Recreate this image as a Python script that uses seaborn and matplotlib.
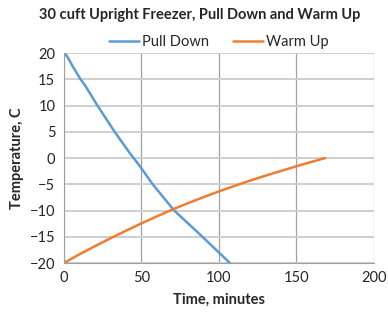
import pandas as pd
import matplotlib
matplotlib.use("Agg")
import matplotlib.pyplot as plt
import seaborn as sns

# Pull down curve (time in minutes, temperature in C)
pull_time = [0, 1.5, 3, 6, 10.9, 13.7, 21.8, 32.9, 42.5, 49.3, 57.4, 71.3, 89.5, 107.2]
pull_temp = [20, 19.7, 19, 17.4, 15, 13.9, 10, 5, 1, -1.6, -5, -10, -15, -20]

# Warm up curve
warm_time = [0, 10, 20, 30, 40, 50, 60, 70, 80, 90, 100, 110, 120, 130, 140, 150, 160, 168.5]
warm_temp = [-20, -18.35, -16.8, -15.3, -13.85, -12.45, -11.1, -9.8, -8.6, -7.45,
             -6.35, -5.3, -4.3, -3.35, -2.45, -1.55, -0.7, 0]

x_ticks = [0, 50, 100, 150, 200]
y_ticks = [-20, -15, -10, -5, 0, 5, 10, 15, 20]

df = pd.concat([
    pd.DataFrame({"time": pull_time, "temp": pull_temp, "series": "Pull Down"}),
    pd.DataFrame({"time": warm_time, "temp": warm_temp, "series": "Warm Up"}),
])

sns.set_style("white")
plt.rcParams["font.family"] = ["Lato", "DejaVu Sans"]

fig = plt.figure(figsize=(3.88, 3.14), dpi=100)
ax = fig.add_axes([0.164, 0.162, 0.800, 0.669])

sns.lineplot(data=df, x="time", y="temp", hue="series",
             palette=["#5b9bd5", "#ed7d31"], linewidth=1.8, ax=ax,
             sort=False, estimator=None)

ax.set_xlim(0, 200)
ax.set_ylim(-20, 20)
ax.set_xticks(x_ticks)
ax.set_yticks(y_ticks)
ax.tick_params(axis="both", labelsize=10.5, length=0, pad=6)

# Excel style grid: darker vertical lines, lighter horizontal ones
ax.xaxis.grid(True, color="#a0a0a0", linewidth=0.9)
ax.yaxis.grid(True, color="#cfcfcf", linewidth=1.4)
ax.set_axisbelow(True)
for side in ["top", "right"]:
    ax.spines[side].set_visible(False)
ax.spines["left"].set_color("#a0a0a0")
ax.spines["bottom"].set_color("#a0a0a0")

ax.set_xlabel("Time, minutes", fontsize=10.5, fontweight="bold", labelpad=5)
ax.set_ylabel("Temperature, C", fontsize=10.5, fontweight="bold", labelpad=4)

fig.suptitle("30 cuft Upright Freezer, Pull Down and Warm Up",
             fontsize=10.5, fontweight="bold", x=0.515, y=0.975)
ax.legend(loc="lower center", bbox_to_anchor=(0.5, 0.99), ncol=2,
          frameon=False, fontsize=10.5, handlelength=2.1, columnspacing=1.6,
          borderaxespad=0, handletextpad=0.2)

fig.savefig("out.png", dpi=100)
